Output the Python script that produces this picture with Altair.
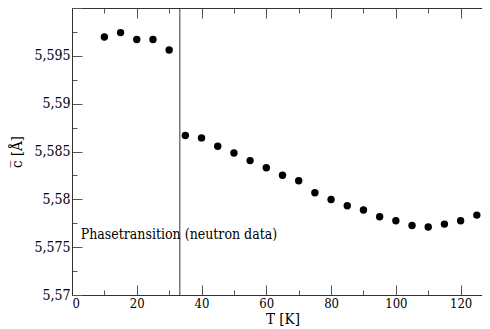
import altair as alt
import pandas as pd

T = [10, 15, 20, 25, 30, 35, 40, 45, 50, 55, 60, 65, 70, 75, 80, 85, 90, 95,
     100, 105, 110, 115, 120, 125]
C = [5.59697, 5.59743, 5.59670, 5.59670, 5.59561, 5.58667, 5.58642, 5.58555,
     5.58485, 5.58405, 5.58331, 5.58251, 5.58195, 5.58069, 5.57999, 5.57933,
     5.57888, 5.57818, 5.57776, 5.57727, 5.57710, 5.57741, 5.57776, 5.57835]

x_major = [0, 20, 40, 60, 80, 100, 120]
x_minor = [10, 30, 50, 70, 90, 110, 130]
y_major = [5.57, 5.575, 5.58, 5.585, 5.59, 5.595, 5.6]
y_minor = [5.5725, 5.5775, 5.5825, 5.5875, 5.5925, 5.5975]
y_labels = {5.57: "5,57", 5.575: "5,575", 5.58: "5,58", 5.585: "5,585",
            5.59: "5,59", 5.595: "5,595"}
x_max = [130]

transition_T = [33.3]
annotation = ["Phasetransition (neutron data)"]
annotation_T = [2.7]
annotation_c = [5.5763]

FONT = "DejaVu Serif Condensed, DejaVu Serif, serif"
TICK = "#555555"
FRAME = "#333333"

df = pd.DataFrame({"T": T, "c": C})

xs = alt.Scale(domain=[0, 130], range=[0, 421], nice=False, zero=False)
ys = alt.Scale(domain=[5.57, 5.6], nice=False, zero=False)

label_expr = " : ".join(
    [f"datum.value > {v - 0.0001} && datum.value < {v + 0.0001} ? '{s}'" for v, s in y_labels.items()]
) + " : ''"

def tick_axis(orient, values, size, offset):
    return alt.Axis(orient=orient, values=values, tickSize=size, offset=offset,
                    labels=False, domain=False, grid=False, title=None,
                    tickColor=TICK, tickWidth=1)

base = alt.Chart(df)

points = base.mark_point(filled=True, color="black", size=55, opacity=1).encode(
    x=alt.X("T:Q", scale=xs, axis=alt.Axis(
        orient="bottom", values=x_major, ticks=False, domain=True, domainColor=FRAME,
        grid=False, title="T [K]", titleFont=FONT, titleFontSize=15,
        titleFontWeight="normal", titleColor="black", titlePadding=1,
        labelFont=FONT, labelFontSize=13, labelColor="black", labelPadding=2)),
    y=alt.Y("c:Q", scale=ys, axis=alt.Axis(
        orient="left", values=y_major[:-1], ticks=False, domain=True, domainColor=FRAME,
        grid=False, labelExpr=label_expr, title="c\u0305 [Å]", titleFont=FONT,
        titleFontSize=15, titleFontWeight="normal", titleColor="black",
        titlePadding=9, labelFont=FONT, labelFontSize=14, labelColor="black",
        labelPadding=2)),
)

def tick_layer(xo, xv, yv, size):
    return base.mark_point(opacity=0).encode(
        x=alt.X("T:Q", scale=xs, axis=tick_axis(xo, xv, size, -size)),
        y=alt.Y("c:Q", scale=ys, axis=tick_axis("left", yv, size, -size)
                if yv is not None else None),
    )

l_major = tick_layer("bottom", x_major, y_major, 10)
l_minor = tick_layer("bottom", x_minor, y_minor, 5)
t_major = tick_layer("top", x_major, None, 10)
t_minor = tick_layer("top", x_minor, None, 5)

t_domain = base.mark_point(opacity=0).encode(
    x=alt.X("T:Q", scale=xs, axis=alt.Axis(
        orient="top", ticks=False, labels=False, domain=True, domainColor=FRAME,
        grid=False, title=None)),
    y=alt.Y("c:Q", scale=ys, axis=None),
)

right_major = alt.Chart(pd.DataFrame({"T": x_max * len(y_major), "c": y_major})).mark_tick(
    orient="horizontal", size=20, thickness=1, color=TICK).encode(
    x=alt.X("T:Q", scale=xs, axis=None), y=alt.Y("c:Q", scale=ys, axis=None))
right_minor = alt.Chart(pd.DataFrame({"T": x_max * len(y_minor), "c": y_minor})).mark_tick(
    orient="horizontal", size=10, thickness=1, color=TICK).encode(
    x=alt.X("T:Q", scale=xs, axis=None), y=alt.Y("c:Q", scale=ys, axis=None))

rule = alt.Chart(pd.DataFrame({"T": transition_T})).mark_rule(
    color=FRAME, strokeWidth=1).encode(x=alt.X("T:Q", scale=xs, axis=None))

text = alt.Chart(pd.DataFrame({"t": annotation, "T": annotation_T, "c": annotation_c})).mark_text(
    align="left", baseline="middle", font=FONT, fontSize=14, color="black").encode(
    x=alt.X("T:Q", scale=xs, axis=None), y=alt.Y("c:Q", scale=ys, axis=None), text="t:N")

chart = alt.layer(l_major, l_minor, t_major, t_minor, t_domain, right_major, right_minor,
                  rule, text, points).resolve_axis(
    x="independent", y="independent"
).properties(
    width=410, height=287,
    autosize=alt.AutoSizeParams(type="none"),
    padding={"left": 64, "top": 0, "right": 0, "bottom": 35},
).configure_view(stroke=None).configure(background="white")

chart.save("out.html", embed_options={"renderer": "svg", "actions": False})
